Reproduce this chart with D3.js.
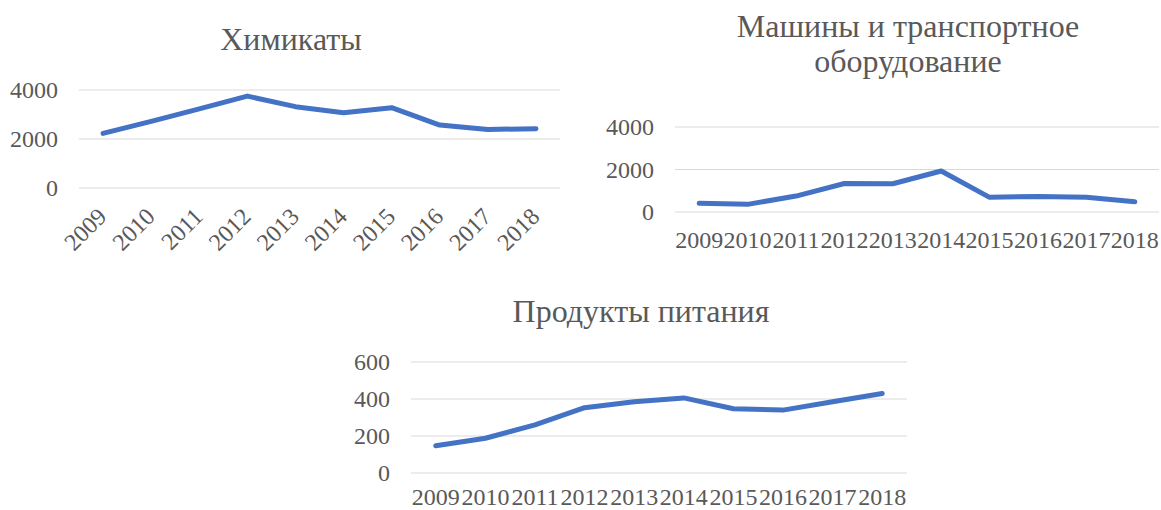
<!DOCTYPE html>
<html>
<head>
<meta charset="utf-8">
<script src="https://cdn.jsdelivr.net/npm/d3@7"></script>
<style>
  body { margin: 0; background: #fff; }
</style>
</head>
<body>
<svg width="1161" height="510"></svg>
<script>
const years = ['2009','2010','2011','2012','2013','2014','2015','2016','2017','2018'];
const chemicals = [2230, 2720, 3230, 3750, 3320, 3070, 3280, 2570, 2390, 2420];
const machinery = [406, 360, 750, 1340, 1330, 1930, 690, 730, 690, 484];
const food = [147, 188, 260, 353, 385, 406, 347, 340, 385, 430];
const chemTicks = [0, 2000, 4000];
const machTicks = [0, 2000, 4000];
const foodTicks = [0, 200, 400, 600];

const FONT = 'Liberation Serif';
const svg = d3.select('svg')
  .attr('font-family', FONT);

function drawChart(cfg) {
  const g = svg.append('g');
  const x = d3.scaleBand().domain(years).range([cfg.x0, cfg.x1]);
  const y = d3.scaleLinear().domain([0, d3.max(cfg.ticks)]).range([cfg.yb, cfg.yt]);

  // gridlines
  g.selectAll('.grid')
    .data(cfg.ticks)
    .enter()
    .append('line')
    .attr('x1', cfg.x0).attr('x2', cfg.x1)
    .attr('y1', d => y(d)).attr('y2', d => y(d))
    .attr('stroke', '#d9d9d9').attr('stroke-width', 1);

  // y labels
  g.selectAll('.ylab')
    .data(cfg.ticks)
    .enter()
    .append('text')
    .attr('x', cfg.x0 - 21)
    .attr('y', d => y(d))
    .attr('dy', '0.34em')
    .attr('text-anchor', 'end')
    .attr('font-family', FONT)
    .attr('font-size', 24)
    .attr('fill', '#595959')
    .text(d => d);

  // x labels
  const xl = g.selectAll('.xlab')
    .data(years)
    .enter()
    .append('text')
    .attr('font-family', FONT)
    .attr('font-size', 24)
    .attr('fill', '#595959')
    .text(d => d);
  if (cfg.rotate) {
    xl.attr('text-anchor', 'end')
      .attr('transform', d => `translate(${x(d) + x.bandwidth() / 2 + 5},${cfg.yb + 30}) rotate(-45)`);
  } else {
    xl.attr('text-anchor', 'middle')
      .attr('x', d => x(d) + x.bandwidth() / 2)
      .attr('y', cfg.yb + cfg.labGap);
  }

  // line
  const line = d3.line()
    .x((d, i) => x(years[i]) + x.bandwidth() / 2)
    .y(d => y(d));
  g.append('path')
    .datum(cfg.values)
    .attr('d', line)
    .attr('fill', 'none')
    .attr('stroke', '#4472c4')
    .attr('stroke-width', 5)
    .attr('stroke-linejoin', 'round')
    .attr('stroke-linecap', 'round');

  // title
  g.selectAll('.title')
    .data(cfg.title)
    .enter()
    .append('text')
    .attr('x', cfg.tx)
    .attr('y', (d, i) => cfg.ty + i * 35)
    .attr('text-anchor', 'middle')
    .attr('font-family', FONT)
    .attr('font-size', 32)
    .attr('fill', '#595959')
    .text(d => d);
}

drawChart({ values: chemicals, ticks: chemTicks, x0: 79, x1: 560, yb: 188, yt: 90,
  rotate: true, title: ['Химикаты'], tx: 291, ty: 50 });
drawChart({ values: machinery, ticks: machTicks, x0: 675, x1: 1159, yb: 212, yt: 127,
  rotate: false, labGap: 36, title: ['Машины и транспортное', 'оборудование'], tx: 908, ty: 37 });
drawChart({ values: food, ticks: foodTicks, x0: 411, x1: 907, yb: 473, yt: 362,
  rotate: false, labGap: 32, title: ['Продукты питания'], tx: 641, ty: 322 });
</script>
</body>
</html>
